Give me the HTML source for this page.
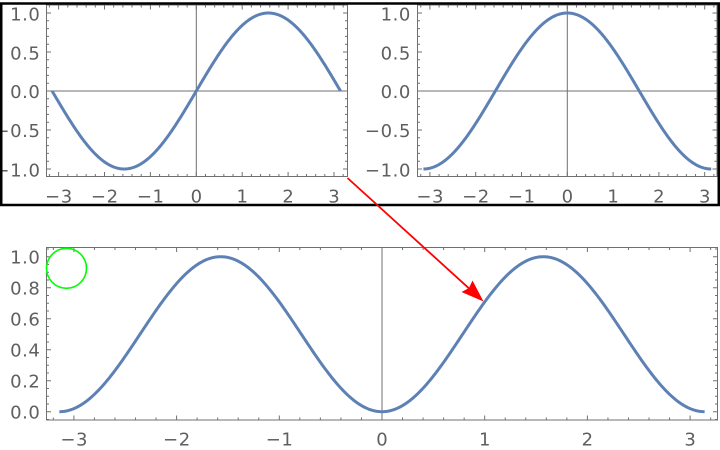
<!DOCTYPE html>
<html><head><meta charset="utf-8"><style>
html,body{margin:0;padding:0;background:#fff;}
svg{display:block;}
text{font-family:"DejaVu Sans","Liberation Sans",sans-serif;font-size:18px;fill:#5f5f5f;letter-spacing:0.6px;}
</style></head><body>
<svg id="s" width="720" height="450" viewBox="0 0 720 450" xmlns="http://www.w3.org/2000/svg">
<g id="g"></g>
<g text-anchor="end">
<text x="40.5" y="20.3">1.0</text>
<text x="40.5" y="59.3">0.5</text>
<text x="40.5" y="97.8">0.0</text>
<text x="40.5" y="136.8">−0.5</text>
<text x="40.5" y="176.3">−1.0</text>
<text x="411" y="20.3">1.0</text>
<text x="411" y="59.3">0.5</text>
<text x="411" y="97.8">0.0</text>
<text x="411" y="136.8">−0.5</text>
<text x="411" y="176.3">−1.0</text>
<text x="40.5" y="263.4">1.0</text>
<text x="40.5" y="294.4">0.8</text>
<text x="40.5" y="325.4">0.6</text>
<text x="40.5" y="356.4">0.4</text>
<text x="40.5" y="387.4">0.2</text>
<text x="40.5" y="418.4">0.0</text>
</g>
<g text-anchor="middle">
<text x="58.9" y="202.5">−3</text>
<text x="104.8" y="202.5">−2</text>
<text x="150.7" y="202.5">−1</text>
<text x="196.6" y="202.5">0</text>
<text x="242.5" y="202.5">1</text>
<text x="288.4" y="202.5">2</text>
<text x="334.3" y="202.5">3</text>
<text x="430.2" y="202.5">−3</text>
<text x="476" y="202.5">−2</text>
<text x="521.8" y="202.5">−1</text>
<text x="567.6" y="202.5">0</text>
<text x="613.4" y="202.5">1</text>
<text x="659.2" y="202.5">2</text>
<text x="705" y="202.5">3</text>
<text x="74.2" y="445.5">−3</text>
<text x="176.9" y="445.5">−2</text>
<text x="279.6" y="445.5">−1</text>
<text x="382.3" y="445.5">0</text>
<text x="485" y="445.5">1</text>
<text x="587.7" y="445.5">2</text>
<text x="690.4" y="445.5">3</text>
</g>
<rect x="1.25" y="3.5" width="717.5" height="201.5" fill="none" stroke="#000" stroke-width="2.5"/>
<circle cx="66.5" cy="268.3" r="20" fill="none" stroke="#00ff00" stroke-width="1.6"/>
<line x1="347.5" y1="178" x2="470" y2="289.3" stroke="#ff0000" stroke-width="1.8"/>
<polygon points="483.5,301.5 472.5,280.5 469,288 461.5,292" fill="#ff0000"/>
</svg>
<script>
(function(){
var NS="http://www.w3.org/2000/svg";
var g=document.getElementById("g");
function el(n,a){var e=document.createElementNS(NS,n);for(var k in a)e.setAttribute(k,a[k]);g.appendChild(e);return e;}
function panel(p){
  var X=function(x){return p.x0+p.sx*x;}, Y=function(y){return p.y0-p.sy*y;};
  var d="";
  for(var i=-40;i<=40;i++){
    var v=i*p.xm; var px=X(v);
    if(px<p.L+0.5||px>p.R-0.5)continue;
    var maj=Math.abs(v/p.xM-Math.round(v/p.xM))<1e-6;
    var len=maj?4.5:2.5;
    d+="M"+px.toFixed(2)+" "+p.B+"v"+(-len)+"M"+px.toFixed(2)+" "+p.T+"v"+len;
  }
  for(var i=-60;i<=60;i++){
    var v=i*p.ym; var py=Y(v);
    if(py<p.T+0.5||py>p.B-0.5)continue;
    var maj=Math.abs(v/p.yM-Math.round(v/p.yM))<1e-6;
    var len=maj?4.5:2.5;
    d+="M"+p.L+" "+py.toFixed(2)+"h"+len+"M"+p.R+" "+py.toFixed(2)+"h"+(-len);
  }
  el("path",{d:d,stroke:"#707070","stroke-width":"1",fill:"none"});
  if(p.hax) el("line",{x1:p.L,y1:Y(0),x2:p.R,y2:Y(0),stroke:"#707070","stroke-width":"1"});
  el("line",{x1:X(0),y1:p.T,x2:X(0),y2:p.B,stroke:"#707070","stroke-width":"1"});
  el("rect",{x:p.L,y:p.T,width:p.R-p.L,height:p.B-p.T,fill:"none",stroke:"#707070","stroke-width":"1"});
  var c="";
  for(var k=0;k<=400;k++){
    var x=-Math.PI+2*Math.PI*k/400;
    c+=(k?"L":"M")+X(x).toFixed(2)+" "+Y(p.f(x)).toFixed(2);
  }
  el("path",{d:c,stroke:"#5e81b5","stroke-width":"3","fill":"none","stroke-linejoin":"round"});
}
panel({x0:196.3,sx:45.9,y0:91,sy:78,L:46.5,R:347.5,T:5,B:176.5,xm:0.2,xM:1,ym:0.1,yM:0.5,hax:true,f:Math.sin});
panel({x0:567.3,sx:45.8,y0:91,sy:78,L:417.5,R:717,T:5,B:176.5,xm:0.2,xM:1,ym:0.1,yM:0.5,hax:true,f:Math.cos});
panel({x0:382,sx:102.7,y0:411.7,sy:155,L:46.5,R:717.5,T:247.5,B:420,xm:0.2,xM:1,ym:0.05,yM:0.2,hax:false,f:function(x){var s=Math.sin(x);return s*s;}});
})();
</script>
</body></html>
